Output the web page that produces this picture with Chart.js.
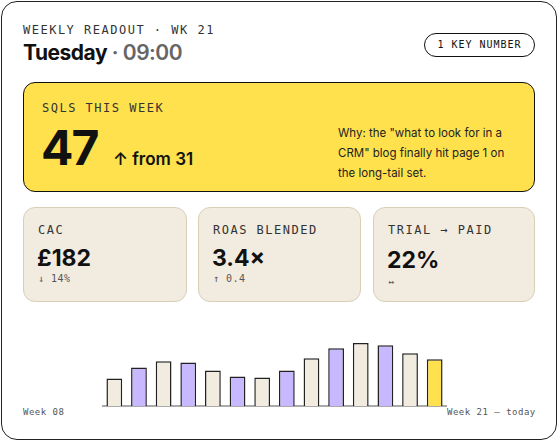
<!DOCTYPE html><html><head><meta charset="utf-8">
<script src="https://cdn.jsdelivr.net/npm/chart.js"></script>
<style>
body{margin:0;width:560px;height:443px;background:#fff;font-family:Inter,sans-serif;position:relative;overflow:hidden}
.frame{position:absolute;left:1px;top:1px;width:556px;height:439px;border:1px solid #222;border-radius:16px;box-sizing:border-box}
.mono{font-family:"DejaVu Sans Mono",monospace;letter-spacing:1.5px;color:#333}
.abs{position:absolute}
.card{position:absolute;border:1px solid #d8cfb8;background:#f2ece0;border-radius:12px;box-sizing:border-box}
</style></head><body>
<div class="frame"></div>
<div class="abs mono" style="left:23px;top:23px;font-size:12px">WEEKLY READOUT · WK 21</div>
<div class="abs" style="left:23px;top:40px;font-size:21px;font-weight:700;letter-spacing:-0.5px;color:#111">Tuesday<span style="color:#666;font-weight:600"> · 09:00</span></div>
<div class="abs mono" style="left:424px;top:33px;width:111px;height:24px;border:1.5px solid #111;border-radius:12px;box-sizing:border-box;font-size:10px;letter-spacing:1px;text-align:center;line-height:21px;color:#111">1 KEY NUMBER</div>
<div class="abs" style="left:23px;top:82px;width:512px;height:110px;background:#ffe14d;border:1.5px solid #111;border-radius:12px;box-sizing:border-box"></div>
<div class="abs mono" style="left:42px;top:101px;font-size:12px">SQLS THIS WEEK</div>
<div class="abs" style="left:41px;top:118px;font-size:48px;font-weight:700;letter-spacing:-2px;color:#111">47</div>
<div class="abs" style="left:113px;top:149px;font-size:17px;font-weight:600;color:#111">↑ from 31</div>
<div class="abs" style="left:338px;top:123px;width:185px;font-size:11.5px;line-height:20px;color:#222">Why: the "what to look for in a CRM" blog finally hit page 1 on the long-tail set.</div>
<div class="card" style="left:23px;top:207px;width:164px;height:95px"></div>
<div class="card" style="left:198px;top:207px;width:163px;height:95px"></div>
<div class="card" style="left:373px;top:207px;width:162px;height:95px"></div>
<div class="abs mono" style="left:38px;top:223px;font-size:12px">CAC</div>
<div class="abs mono" style="left:213px;top:223px;font-size:12px">ROAS BLENDED</div>
<div class="abs mono" style="left:388px;top:223px;font-size:12px">TRIAL → PAID</div>
<div class="abs" style="left:37px;top:244px;font-size:23px;font-weight:700;color:#111">£182</div>
<div class="abs" style="left:212px;top:244px;font-size:23px;font-weight:700;color:#111">3.4×</div>
<div class="abs" style="left:387px;top:246px;font-size:23px;font-weight:700;color:#111">22%</div>
<div class="abs mono" style="left:38px;top:273px;font-size:10px;letter-spacing:0.5px;color:#555">↓ 14%</div>
<div class="abs mono" style="left:213px;top:273px;font-size:10px;letter-spacing:0.5px;color:#555">↑ 0.4</div>
<div class="abs mono" style="left:388px;top:276px;font-size:10px;color:#555">↔</div>
<div class="abs mono" style="left:23px;top:407px;font-size:9px;letter-spacing:0.5px;color:#555">Week 08</div>
<div class="abs mono" style="left:447px;top:407px;font-size:9px;letter-spacing:0.5px;color:#555">Week 21 — today</div>
<div class="abs" style="left:102px;top:336px;width:345px;height:78px"><canvas id="c"></canvas></div>
<script>
const weeks=["W08","W09","W10","W11","W12","W13","W14","W15","W16","W17","W18","W19","W20","W21"];
const sqls=[27,38,44,43,35,29,28,35,47,57,62,60,52,46];
const colors=sqls.map((v,i)=>i===sqls.length-1?"#ffe14d":(i%2?"#c8b8ff":"#f2ece0"));
new Chart(document.getElementById("c"),{type:"bar",data:{labels:weeks,datasets:[{data:sqls,backgroundColor:colors,borderColor:"#222",borderWidth:1.5,borderSkipped:"bottom",barPercentage:0.64,categoryPercentage:1}]},
options:{responsive:true,maintainAspectRatio:false,animation:false,layout:{padding:0},plugins:{legend:{display:false},tooltip:{enabled:false}},
scales:{x:{offset:true,grid:{display:false},border:{color:"#aaa",width:2},ticks:{display:false}},y:{min:0,max:69,display:false}}}});
</script></body></html>
